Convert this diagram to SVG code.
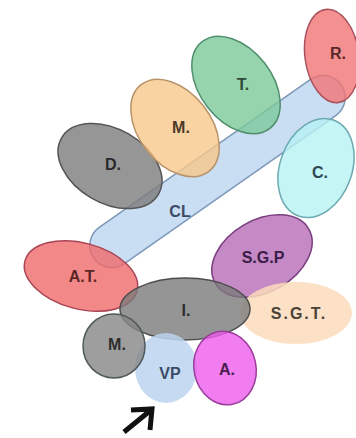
<svg xmlns="http://www.w3.org/2000/svg" width="356" height="438" viewBox="0 0 356 438">
<style>
.s{stroke-width:1.5;fill-opacity:0.8}
text{font-family:"Liberation Sans",Arial,sans-serif;font-size:16px;font-weight:bold;text-anchor:middle}
</style>
<rect width="356" height="438" fill="#ffffff"/>
<g id="CL">
<rect class="s" x="-151" y="-22" width="302" height="44" rx="22" transform="translate(217.5 171.5) rotate(-35)" fill="#bcd5f0" stroke="#7d98b8"/>
<text x="180" y="217" fill="#3d4a66">CL</text>
</g>
<g id="D">
<ellipse class="s" cx="110" cy="166" rx="56" ry="37" transform="rotate(30 110 166)" fill="#7c7c7c" stroke="#555"/>
<text x="113" y="170" fill="#2a2a2a">D.</text>
</g>
<g id="M1">
<ellipse class="s" cx="175" cy="128" rx="55" ry="36" transform="rotate(52 175 128)" fill="#f8c88a" stroke="#b8936a"/>
<text x="181" y="133" fill="#4a3a2a">M.</text>
</g>
<g id="T">
<ellipse class="s" cx="236" cy="85" rx="55" ry="36" transform="rotate(52 236 85)" fill="#7cc99a" stroke="#4f8f6c"/>
<text x="243" y="90" fill="#2e4a38">T.</text>
</g>
<g id="R">
<ellipse class="s" cx="332" cy="56" rx="27" ry="47" transform="rotate(-8 332 56)" fill="#f27474" stroke="#a8505c"/>
<text x="338" y="59" fill="#5a2a2a">R.</text>
</g>
<g id="C">
<ellipse class="s" cx="316" cy="168" rx="36" ry="51" transform="rotate(20 316 168)" fill="#b8f2f4" stroke="#6aaab0"/>
<text x="320" y="178" fill="#2e4a50">C.</text>
</g>
<g id="AT">
<ellipse class="s" cx="81" cy="276" rx="58" ry="33" transform="rotate(15 81 276)" fill="#f06a6a" stroke="#a84454"/>
<text x="83" y="282" fill="#5a2626">A.T.</text>
</g>
<g id="SGP">
<ellipse class="s" cx="262" cy="256" rx="54" ry="36" transform="rotate(-30 262 256)" fill="#b66cb6" stroke="#7a3e7e"/>
<text x="263" y="263" fill="#3a1e48">S.G.P</text>
</g>
<g id="SGT">
<ellipse cx="296" cy="313" rx="56" ry="31" fill="#fcdcbc" fill-opacity="0.85"/>
<text x="299" y="319" fill="#4a4236" letter-spacing="2">S.G.T.</text>
</g>
<g id="I">
<ellipse class="s" cx="185" cy="309" rx="65" ry="31" fill="#7a7a7a" stroke="#4e4e4e"/>
<text x="186" y="316" fill="#2e2e2e">I.</text>
</g>
<g id="VP">
<ellipse cx="166" cy="368" rx="31" ry="35" fill="#bcd5f0" fill-opacity="0.85"/>
<text x="170" y="379" fill="#3d4a66">VP</text>
</g>
<g id="M2">
<ellipse class="s" cx="114" cy="346" rx="31" ry="32" fill="#868686" stroke="#505a5a"/>
<text x="117" y="350" fill="#2e2e2e">M.</text>
</g>
<g id="A">
<ellipse class="s" cx="225" cy="368" rx="31" ry="37" transform="rotate(-12 225 368)" fill="#ee5cee" stroke="#9a3e9a"/>
<text x="227" y="375" fill="#4a1e4a">A.</text>
</g>
<g id="connectors">
<path d="M124 432 L151 410 M131 410 L152 409 L150 430" fill="none" stroke="#111" stroke-width="5" stroke-linecap="butt" stroke-linejoin="miter"/>
</g>
</svg>
